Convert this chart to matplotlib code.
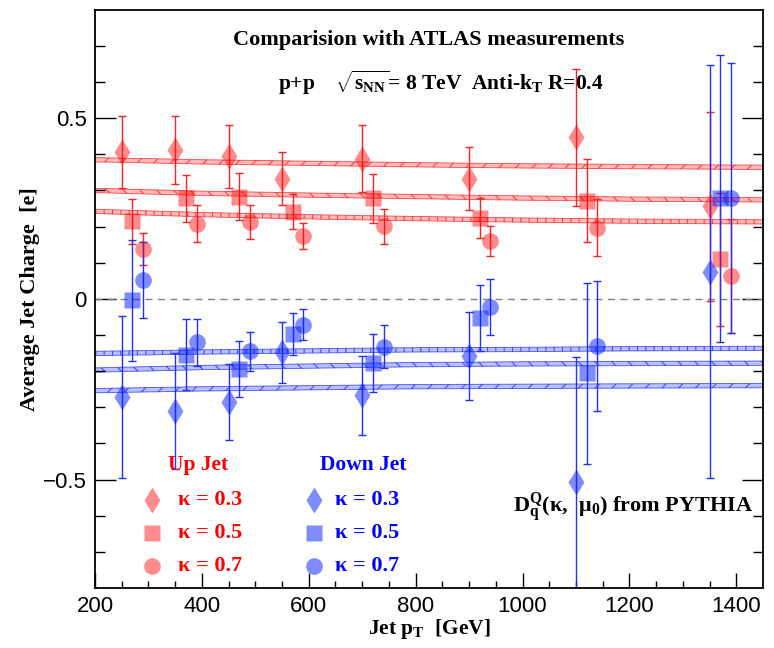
import numpy as np
import matplotlib
matplotlib.use('Agg')
from matplotlib import pyplot as plt

plt.rcParams['font.family'] = ['Liberation Serif', 'DejaVu Sans']
plt.rcParams['mathtext.fontset'] = 'custom'
plt.rcParams['mathtext.rm'] = 'Liberation Serif:bold'
plt.rcParams['mathtext.it'] = 'Liberation Serif:bold'
plt.rcParams['mathtext.bf'] = 'Liberation Serif:bold'
plt.rcParams['hatch.linewidth'] = 0.8

# ATLAS data points, jet pT bins (GeV), each kappa shifted a bit for visibility
pt_k3 = [250, 350, 450, 550, 700, 900, 1100, 1350]
pt_k5 = [270, 370, 470, 570, 720, 920, 1120, 1370]
pt_k7 = [290, 390, 490, 590, 740, 940, 1140, 1390]

up_k3 = [0.406, 0.412, 0.394, 0.332, 0.388, 0.332, 0.447, 0.256]
up_k3_err = [0.100, 0.093, 0.087, 0.073, 0.093, 0.087, 0.190, 0.262]
up_k5 = [0.215, 0.278, 0.282, 0.241, 0.278, 0.224, 0.272, 0.109]
up_k5_err = [0.062, 0.065, 0.065, 0.049, 0.067, 0.055, 0.115, 0.183]
up_k7 = [0.139, 0.208, 0.213, 0.175, 0.201, 0.160, 0.197, 0.063]
up_k7_err = [0.044, 0.051, 0.046, 0.036, 0.049, 0.041, 0.078, 0.158]

down_k3 = [-0.272, -0.311, -0.286, -0.148, -0.267, -0.157, -0.506, 0.075]
down_k3_err = [0.225, 0.160, 0.105, 0.084, 0.110, 0.122, 0.345, 0.572]
down_k5 = [-0.004, -0.154, -0.194, -0.097, -0.178, -0.053, -0.206, 0.278]
down_k5_err = [0.167, 0.098, 0.077, 0.059, 0.080, 0.090, 0.250, 0.398]
down_k7 = [0.052, -0.120, -0.145, -0.072, -0.132, -0.022, -0.131, 0.279]
down_k7_err = [0.105, 0.065, 0.054, 0.043, 0.060, 0.077, 0.180, 0.374]

# PYTHIA bands
pt_fit = [200, 400, 600, 800, 1000, 1200, 1450]
up_fit_k3 = [0.385, 0.379, 0.375, 0.371, 0.368, 0.366, 0.364]
up_fit_k5 = [0.300, 0.292, 0.287, 0.283, 0.279, 0.276, 0.274]
up_fit_k7 = [0.242, 0.233, 0.227, 0.222, 0.218, 0.215, 0.213]
down_fit_k3 = [-0.254, -0.249, -0.246, -0.243, -0.242, -0.241, -0.240]
down_fit_k5 = [-0.197, -0.190, -0.186, -0.182, -0.180, -0.179, -0.178]
down_fit_k7 = [-0.151, -0.147, -0.144, -0.141, -0.140, -0.138, -0.137]

red_fill = (1, 0, 0, 0.45)
blue_fill = (0, 0.1, 1, 0.5)
red_line = '#ff2020'
blue_line = '#2030ff'

fig = plt.figure(figsize=(7.74, 6.48), dpi=100)
ax = fig.add_axes([0.1227, 0.0926, 0.8631, 0.8924])

# bands from PYTHIA
bands = [(up_fit_k3, red_line, '//'), (up_fit_k5, red_line, '\\\\'), (up_fit_k7, red_line, '||'),
         (down_fit_k3, blue_line, '//'), (down_fit_k5, blue_line, '\\\\'), (down_fit_k7, blue_line, '||')]
for vals, col, hat in bands:
    v = np.array(vals)
    ax.fill_between(pt_fit, v - 0.006, v + 0.006, facecolor=col, alpha=0.3, lw=0)
    ax.fill_between(pt_fit, v - 0.006, v + 0.006, facecolor='none', edgecolor=col,
                    hatch=hat, lw=0.6, alpha=0.8)

ax.axhline(0, color='gray', ls='--', lw=1, dashes=(5, 4))

# data points
ms_d, ms_s, ms_o = 13, 11.5, 12
sets = [(pt_k3, up_k3, up_k3_err, 'd', ms_d, red_fill, red_line),
        (pt_k5, up_k5, up_k5_err, 's', ms_s, red_fill, red_line),
        (pt_k7, up_k7, up_k7_err, 'o', ms_o, red_fill, red_line),
        (pt_k3, down_k3, down_k3_err, 'd', ms_d, blue_fill, blue_line),
        (pt_k5, down_k5, down_k5_err, 's', ms_s, blue_fill, blue_line),
        (pt_k7, down_k7, down_k7_err, 'o', ms_o, blue_fill, blue_line)]
for x, y, e, m, ms, fc, lc in sets:
    ax.errorbar(x, y, yerr=e, fmt=m, ms=ms, mfc=fc, mec='none', ecolor=lc,
                elinewidth=1, capsize=3, capthick=1)

ax.set_xlim(200, 1450)
ax.set_ylim(-0.8, 0.8)
ax.set_xticks([200, 400, 600, 800, 1000, 1200, 1400])
ax.set_xticks(np.arange(250, 1450, 50), minor=True)
ax.set_yticks([-0.5, 0, 0.5])
ax.set_yticklabels(['\u22120.5', '0', '0.5'])
ax.set_yticks(np.arange(-0.7, 0.75, 0.1), minor=True)
for lab in ax.get_xticklabels() + ax.get_yticklabels():
    lab.set_family('Liberation Sans')
    lab.set_fontsize(16)
ax.tick_params(axis='x', which='major', direction='in', length=11, width=1, top=False, pad=6)
ax.tick_params(axis='x', which='minor', direction='in', length=5, width=1, top=False)
ax.tick_params(axis='y', which='major', direction='in', length=15, width=1, right=True, pad=6)
ax.tick_params(axis='y', which='minor', direction='in', length=7.5, width=1, right=True)
for s in ax.spines.values():
    s.set_linewidth(1.3)

ax.set_xlabel(r'Jet p$_{\mathrm{T}}$  [GeV]', fontsize=15.5, fontweight='bold', labelpad=0)
ax.set_ylabel('Average Jet Charge  [e]', fontsize=16, fontweight='bold', labelpad=2)

ax.text(0.5, 0.947, 'Comparision with ATLAS measurements', transform=ax.transAxes,
        ha='center', va='center', fontsize=16, fontweight='bold')
ax.text(0.518, 0.874, 'p+p    $\\sqrt{\\mathrm{s}_{\\mathrm{NN}}}$= 8 TeV  Anti-k$_{\\mathrm{T}}$ R=0.4',
        transform=ax.transAxes, ha='center', va='center', fontsize=15.5, fontweight='bold')

# legend made by hand
ax.text(392, -0.46, 'Up Jet', color='red', ha='center', va='center', fontsize=15.5, fontweight='bold')
ax.text(701, -0.46, 'Down Jet', color='blue', ha='center', va='center', fontsize=15.5, fontweight='bold')
leg_y = [-0.557, -0.649, -0.739]
leg_m = [('d', ms_d), ('s', ms_s), ('o', ms_o)]
leg_t = ['\u03ba = 0.3', '\u03ba = 0.5', '\u03ba = 0.7']
for yy, (m, ms), t in zip(leg_y, leg_m, leg_t):
    ax.plot(307, yy, m, ms=ms, mfc=red_fill, mec='none')
    ax.text(356, yy, t, color='red', ha='left', va='center', fontsize=16, fontweight='bold')
    ax.plot(609, yy, m, ms=ms, mfc=blue_fill, mec='none')
    ax.text(649, yy, t, color='blue', ha='left', va='center', fontsize=16, fontweight='bold')

ax.text(983, -0.58, 'D$_{\\mathrm{q}}^{\\mathrm{Q}}$(\u03ba,  \u03bc$_{0}$) from PYTHIA',
        ha='left', va='center', fontsize=16, fontweight='bold')

fig.savefig('out.png', dpi=100)
